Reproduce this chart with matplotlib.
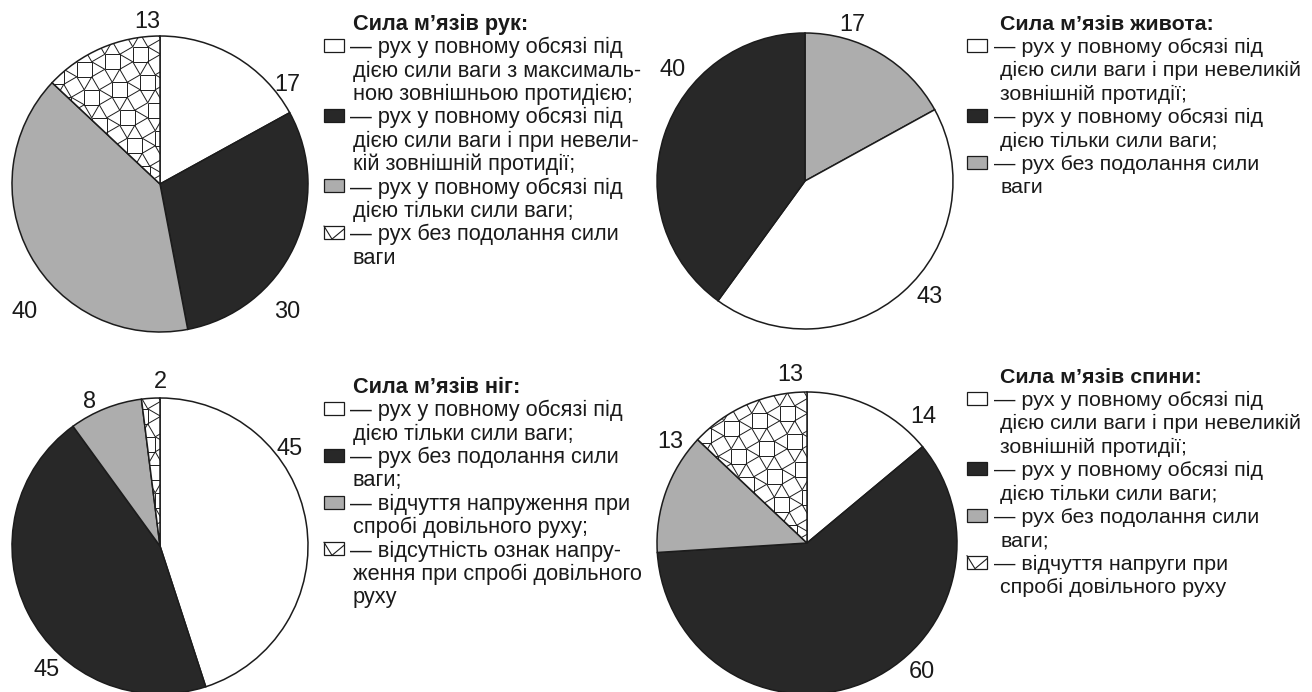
import numpy as np
import matplotlib
matplotlib.use("Agg")
import matplotlib.pyplot as plt
from matplotlib.patches import Rectangle
from matplotlib.collections import LineCollection
from matplotlib.lines import Line2D
from matplotlib.textpath import TextPath
from matplotlib.font_manager import FontProperties

W, H, DPI = 1312, 692, 100
FONT = "Liberation Sans"
plt.rcParams["font.family"] = [FONT, "DejaVu Sans"]

# ---- data: shares (%) in clockwise order from 12 o'clock, with fill kinds ----
arms_values = [17, 30, 40, 13]
arms_fills = ["white", "dark", "gray", "mesh"]

abdomen_values = [17, 43, 40]
abdomen_fills = ["gray", "white", "dark"]

legs_values = [45, 45, 8, 2]
legs_fills = ["white", "dark", "gray", "mesh"]

back_values = [14, 60, 13, 13]
back_fills = ["white", "dark", "gray", "mesh"]

arms_title = "Сила м’язів рук:"
arms_rows = [
    ("white", "— рух у повному обсязі під"),
    (None, "дією сили ваги з максималь-"),
    (None, "ною зовнішньою протидією;"),
    ("dark", "— рух у повному обсязі під"),
    (None, "дією сили ваги і при невели-"),
    (None, "кій зовнішній протидії;"),
    ("gray", "— рух у повному обсязі під"),
    (None, "дією тільки сили ваги;"),
    ("mesh", "— рух без подолання сили"),
    (None, "ваги"),
]

abdomen_title = "Сила м’язів живота:"
abdomen_rows = [
    ("white", "— рух у повному обсязі під"),
    (None, "дією сили ваги і при невеликій"),
    (None, "зовнішній протидії;"),
    ("dark", "— рух у повному обсязі під"),
    (None, "дією тільки сили ваги;"),
    ("gray", "— рух без подолання сили"),
    (None, "ваги"),
]

legs_title = "Сила м’язів ніг:"
legs_rows = [
    ("white", "— рух у повному обсязі під"),
    (None, "дією тільки сили ваги;"),
    ("dark", "— рух без подолання сили"),
    (None, "ваги;"),
    ("gray", "— відчуття напруження при"),
    (None, "спробі довільного руху;"),
    ("mesh", "— відсутність ознак напру-"),
    (None, "ження при спробі довільного"),
    (None, "руху"),
]

back_title = "Сила м’язів спини:"
back_rows = [
    ("white", "— рух у повному обсязі під"),
    (None, "дією сили ваги і при невеликій"),
    (None, "зовнішній протидії;"),
    ("dark", "— рух у повному обсязі під"),
    (None, "дією тільки сили ваги;"),
    ("gray", "— рух без подолання сили"),
    (None, "ваги;"),
    ("mesh", "— відчуття напруги при"),
    (None, "спробі довільного руху"),
]

FILL = {"white": "#ffffff", "dark": "#282828", "gray": "#adadad", "mesh": "#ffffff"}
EDGE = "#1c1c1c"


def fit_size(s, px, weight="normal"):
    fp = FontProperties(family=FONT, weight=weight)
    w = TextPath((0, 0), s, size=100, prop=fp).get_extents().width
    return px * 72.0 / w * 100.0 / DPI


LEFT_SIZE = fit_size("дією сили ваги з максималь-", 288)
RIGHT_SIZE = fit_size("дією сили ваги і при невеликій", 298)
NUM_SIZE = LEFT_SIZE * 1.08


def mesh_segments(rx, ry, s=15.0, rot=15.0):
    """Snub-square tiling edges (pixel scale), returned in pie data units."""
    L = s * (1 + np.sqrt(3)) / np.sqrt(2)
    n = int(np.ceil(max(rx, ry) / L)) + 2
    r = s / np.sqrt(2)
    ang = np.radians([60, 150, 240, 330])
    pts = []
    for i in range(-n, n + 1):
        for j in range(-n, n + 1):
            for a in ang:
                pts.append((i * L + r * np.cos(a), j * L + r * np.sin(a)))
    pts = np.array(pts)
    t = np.radians(rot)
    R = np.array([[np.cos(t), -np.sin(t)], [np.sin(t), np.cos(t)]])
    pts = pts @ R.T
    d = np.hypot(pts[:, None, 0] - pts[None, :, 0], pts[:, None, 1] - pts[None, :, 1])
    ii, jj = np.where(np.triu(np.abs(d - s) < 0.02 * s, 1))
    segs = np.stack([pts[ii], pts[jj]], axis=1)
    segs[..., 0] /= rx
    segs[..., 1] /= ry
    return segs


def draw_pie(fig, values, fills, cx, cy, rx, ry, pad=1.03):
    ax = fig.add_axes([(cx - rx * pad) / W, (H - (cy + ry * pad)) / H,
                       2 * rx * pad / W, 2 * ry * pad / H])
    wedges, _ = ax.pie(values, colors=[FILL[f] for f in fills], startangle=90,
                       counterclock=False, radius=1.0,
                       wedgeprops=dict(edgecolor=EDGE, linewidth=1.1))
    for w, f in zip(wedges, fills):
        if f == "mesh":
            lc = LineCollection(mesh_segments(rx, ry), colors=EDGE,
                                linewidths=0.7, zorder=w.get_zorder() + 0.1)
            ax.add_collection(lc, autolim=False)
            lc.set_clip_path(w)
    ax.set_xlim(-pad, pad)
    ax.set_ylim(-pad, pad)
    ax.set_aspect("auto")
    ax.axis("off")
    return ax


fig = plt.figure(figsize=(W / DPI, H / DPI), dpi=DPI)
fig.patch.set_facecolor("white")

draw_pie(fig, arms_values, arms_fills, 160, 184, 148, 148)
draw_pie(fig, abdomen_values, abdomen_fills, 805, 181, 148, 148)
draw_pie(fig, legs_values, legs_fills, 160, 546, 148, 148)
draw_pie(fig, back_values, back_fills, 807, 543, 150, 151)

ov = fig.add_axes([0, 0, 1, 1])
ov.set_xlim(0, W)
ov.set_ylim(H, 0)
ov.axis("off")
ov.set_zorder(5)
ov.patch.set_alpha(0)


def swatch(ax, kind, x, yc, w=20, h=13):
    y = yc - h / 2
    ax.add_patch(Rectangle((x, y), w, h, facecolor=FILL[kind], edgecolor=EDGE, linewidth=0.9))
    if kind == "mesh":
        ax.add_line(Line2D([x, x + 8, x + w], [y, y + h, y + 3], color=EDGE, linewidth=0.8))


def draw_legend(ax, x0, y_title, title, rows, size, dash_dx, text_dx, step=23.4):
    em = size * DPI / 72.0
    off = 0.36 * em
    ax.text(x0 + text_dx, y_title + off, title, fontsize=size, fontweight="bold",
            ha="left", va="baseline", color="#1a1a1a")
    for k, (kind, line) in enumerate(rows):
        yc = y_title + step * (k + 1)
        if kind:
            swatch(ax, kind, x0, yc)
            ax.text(x0 + dash_dx, yc + off, line, fontsize=size, ha="left",
                    va="baseline", color="#1a1a1a")
        else:
            ax.text(x0 + text_dx, yc + off, line, fontsize=size, ha="left",
                    va="baseline", color="#1a1a1a")


draw_legend(ov, 324, 22, arms_title, arms_rows, LEFT_SIZE, 26, 29)
draw_legend(ov, 967, 22, abdomen_title, abdomen_rows, RIGHT_SIZE, 27, 33)
draw_legend(ov, 324, 385, legs_title, legs_rows, LEFT_SIZE, 26, 29)
draw_legend(ov, 967, 375, back_title, back_rows, RIGHT_SIZE, 27, 33)

# value labels, one per slice, placed around each pie
arms_label_xy = [(287, 83), (287, 310), (25, 310), (147, 20)]
abdomen_label_xy = [(852, 23), (930, 295), (673, 68)]
legs_label_xy = [(290, 447), (47, 668), (90, 400), (160, 380)]
back_label_xy = [(923, 415), (922, 670), (670, 440), (790, 373)]

num_off = 0.36 * NUM_SIZE * DPI / 72.0
for vals, xy in [(arms_values, arms_label_xy), (abdomen_values, abdomen_label_xy),
                 (legs_values, legs_label_xy), (back_values, back_label_xy)]:
    for v, (x, y) in zip(vals, xy):
        ov.text(x, y + num_off, f"{v}", fontsize=NUM_SIZE, ha="center",
                va="baseline", color="#1a1a1a")

fig.savefig("out.png", dpi=DPI, facecolor="white")
